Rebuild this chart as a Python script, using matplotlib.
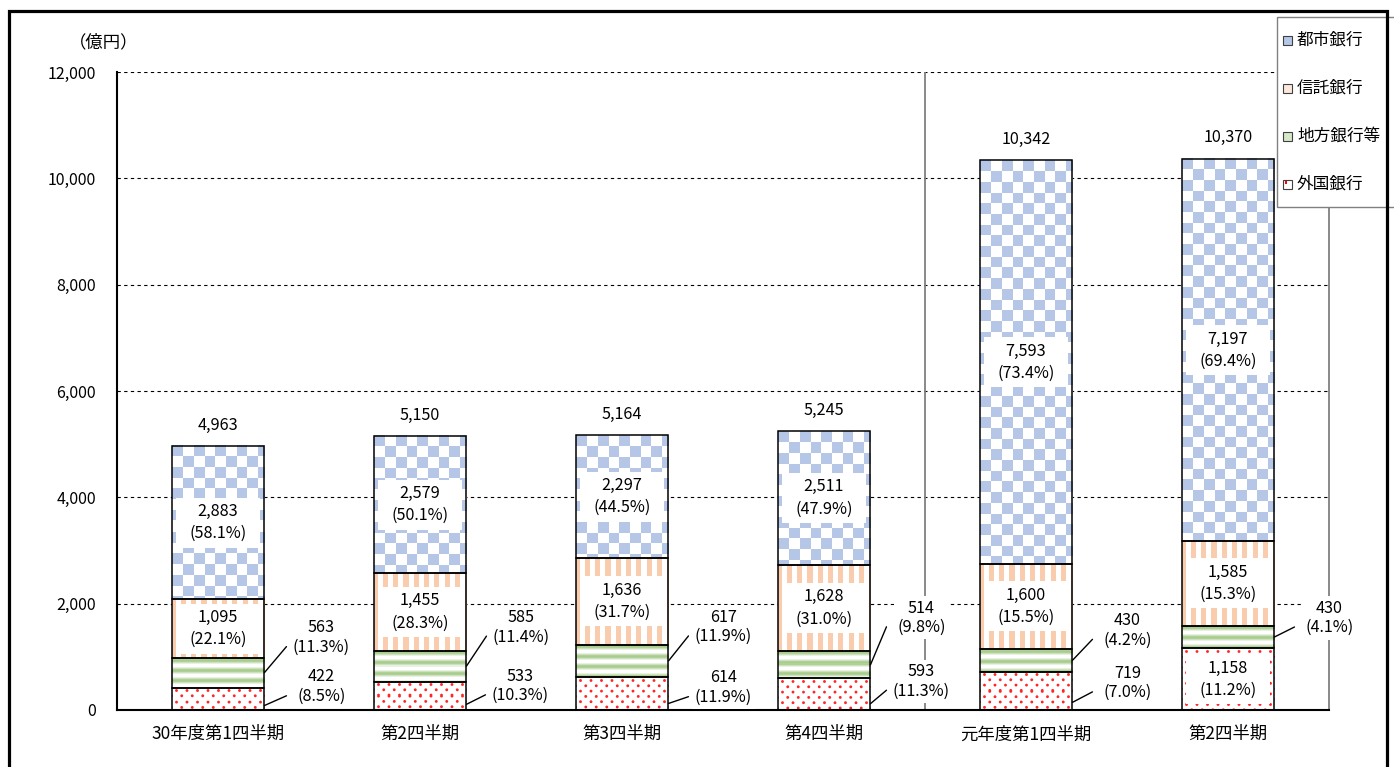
import numpy as np
import matplotlib
matplotlib.use("Agg")
import matplotlib.pyplot as plt
from matplotlib.patches import Rectangle

plt.rcParams['font.family'] = ['Noto Sans CJK JP', 'DejaVu Sans']

# ---------------- data ----------------
categories = ["30年度第1四半期", "第2四半期", "第3四半期", "第4四半期", "元年度第1四半期", "第2四半期"]
series_names = ["都市銀行", "信託銀行", "地方銀行等", "外国銀行"]
foreign = [422, 533, 614, 593, 719, 1158]
foreign_pct = [8.5, 10.3, 11.9, 11.3, 7.0, 11.2]
regional = [563, 585, 617, 514, 430, 430]
regional_pct = [11.3, 11.4, 11.9, 9.8, 4.2, 4.1]
trust = [1095, 1455, 1636, 1628, 1600, 1585]
trust_pct = [22.1, 28.3, 31.7, 31.0, 15.5, 15.3]
city = [2883, 2579, 2297, 2511, 7593, 7197]
city_pct = [58.1, 50.1, 44.5, 47.9, 73.4, 69.4]
totals = [4963, 5150, 5164, 5245, 10342, 10370]
yticks = [0, 2000, 4000, 6000, 8000, 10000, 12000]

# layout offsets (pixels) for labels placed outside the bars
regional_off = [(57, 35), (55, 39), (55, 34), (51, 47), (55, 30), (55, 19)]
foreign_off = [(57, 12), (54, 10), (55, 6), (51, 13), (55, 8), None]
foreign_inside = [False, False, False, False, False, True]

W, H = 1394, 767
fig = plt.figure(figsize=(W / 100, H / 100), dpi=100)
ax = fig.add_axes([117 / W, 1 - 710 / H, (1329 - 117) / W, (710 - 72) / H])
XLIM = (-0.5, len(categories) - 0.5)
YLIM = (0, 12000)
ax.set_xlim(*XLIM)
ax.set_ylim(*YLIM)
ax.set_autoscale_on(False)

BW = 0.46
x = np.arange(len(categories))

BLUE = np.array([0.71, 0.78, 0.905])
ORANGE = np.array([0.975, 0.80, 0.68])
GREEN = np.array([0.64, 0.79, 0.53])
RED = np.array([1.0, 0.15, 0.15])
WHITE = np.array([1.0, 1.0, 1.0])


def texture(kind, w, h):
    yy, xx = np.mgrid[0:h, 0:w].astype(float)
    img = np.ones((h, w, 3))
    if kind == 'checker':
        c = 10.7
        m = ((np.floor(xx / c) + np.floor(yy / c)) % 2) == 0
        img[m] = BLUE
    elif kind == 'vstripe':
        p = 10.3
        m = ((xx + 2) % p) < p * 0.5
        img[m] = ORANGE
    elif kind == 'hstripe':
        p = 10.0
        ph = ((yy + 3) % p) / p
        t = np.clip(1.25 - np.abs(ph - 0.5) / 0.3, 0, 1) * 0.95
        img = WHITE * (1 - t[..., None]) + GREEN * t[..., None]
    elif kind == 'dots':
        py, pxs = 5.3, 10.5
        r = np.round((yy - 3) / py)
        dy = (yy - 3) - r * py
        off = (r % 2) * pxs / 2 + 4
        dx = (xx - off) % pxs
        dx = np.minimum(dx, pxs - dx)
        d = np.sqrt(dx ** 2 + dy ** 2)
        a = np.clip(1.9 - d, 0, 1)
        img = WHITE * (1 - a[..., None]) + RED * a[..., None]
    return img


def px(xd, yd):
    return ax.transData.transform((xd, yd))


def draw_segment(i, bottom, val, kind):
    x0, x1 = x[i] - BW / 2, x[i] + BW / 2
    (dx0, dy0) = px(x0, bottom)
    (dx1, dy1) = px(x1, bottom + val)
    w = max(int(round(dx1 - dx0)), 1)
    h = max(int(round(dy1 - dy0)), 1)
    img = texture(kind, w, h)
    ax.imshow(img, extent=(x0, x1, bottom, bottom + val), origin='upper',
              interpolation='nearest', aspect='auto', zorder=2.1)


# segments
bottoms_f = np.zeros(len(x))
bottoms_r = np.array(foreign, float)
bottoms_t = bottoms_r + np.array(regional)
bottoms_c = bottoms_t + np.array(trust)

for i in range(len(x)):
    draw_segment(i, 0, foreign[i], 'dots')
    draw_segment(i, bottoms_r[i], regional[i], 'hstripe')
    draw_segment(i, bottoms_t[i], trust[i], 'vstripe')
    draw_segment(i, bottoms_c[i], city[i], 'checker')

for vals, bots in [(foreign, bottoms_f), (regional, bottoms_r), (trust, bottoms_t), (city, bottoms_c)]:
    ax.bar(x, vals, bottom=bots, width=BW, facecolor='none', edgecolor='black', linewidth=1.1, zorder=2.3)

ax.set_xlim(*XLIM)
ax.set_ylim(*YLIM)

# per-pixel data scale
ppd_y = (px(0, 1000)[1] - px(0, 0)[1]) / 1000.0
ppd_x = px(1, 0)[0] - px(0, 0)[0]

FS = 11.7


def inside_label(i, center, val, pct):
    bw, bh = 84 / ppd_x, 50 / ppd_y
    ax.add_patch(Rectangle((x[i] - bw / 2, center - bh / 2), bw, bh, facecolor='white',
                           edgecolor='none', zorder=2.2))
    ax.annotate(f"{val:,}", (x[i], center), xytext=(0, 11), textcoords='offset pixels',
                ha='center', va='center', fontsize=FS, zorder=4)
    ax.annotate(f"({pct:.1f}%)", (x[i], center), xytext=(0, -11), textcoords='offset pixels',
                ha='center', va='center', fontsize=FS, zorder=4)


def outside_label(i, center, start, val, pct, off):
    xr = x[i] + BW / 2
    lx = off[0]
    ly = off[1] + (center - start) * ppd_y
    ax.annotate(f"{val:,}\n({pct:.1f}%)", xy=(xr, start), xytext=(lx, ly), textcoords='offset pixels',
                ha='center', va='center', fontsize=FS, linespacing=1.2, zorder=5,
                annotation_clip=False,
                bbox=dict(boxstyle='square,pad=0.2', facecolor='white', edgecolor='none'))
    ax.annotate("", xy=(xr, start), xytext=(lx - 35, ly - 9), textcoords='offset pixels',
                annotation_clip=False,
                arrowprops=dict(arrowstyle='-', color='black', lw=1.0, shrinkA=0, shrinkB=0),
                zorder=5)


for i in range(len(x)):
    inside_label(i, bottoms_c[i] + city[i] / 2, city[i], city_pct[i])
    inside_label(i, bottoms_t[i] + trust[i] / 2, trust[i], trust_pct[i])
    outside_label(i, bottoms_r[i] + regional[i] / 2, bottoms_r[i] + regional[i] / 2,
                  regional[i], regional_pct[i], regional_off[i])
    if foreign_inside[i]:
        inside_label(i, foreign[i] / 2, foreign[i], foreign_pct[i])
    else:
        outside_label(i, foreign[i] / 2, foreign[i] * 0.2, foreign[i], foreign_pct[i], foreign_off[i])
    ax.annotate(f"{totals[i]:,}", (x[i], totals[i]), xytext=(0, 21), textcoords='offset pixels',
                ha='center', va='center', fontsize=FS, zorder=4)

# grid, separator, axes styling
ax.set_yticks(yticks)
ax.set_yticklabels([f"{v:,}" for v in yticks])
ax.yaxis.grid(True, linestyle=(0, (3, 3)), color='black', linewidth=0.8)
ax.set_axisbelow(True)
ax.axvline(3.5, color='#808080', linewidth=1.3, zorder=1)
ax.set_xticks(x)
ax.set_xticklabels(categories)
ax.tick_params(axis='y', length=0, pad=15, labelsize=11.5)
ax.tick_params(axis='x', length=0, pad=11, labelsize=12.5)
ax.spines['top'].set_visible(False)
ax.spines['right'].set_color('#808080')
ax.spines['right'].set_linewidth(1.3)
ax.spines['left'].set_linewidth(1.5)
ax.spines['bottom'].set_linewidth(1.5)

fig.text(104 / W, 1 - 42 / H, "（億円）", ha='center', va='center', fontsize=12.5)

# legend (manual)
fig.add_artist(Rectangle((1277 / W, 1 - 207 / H), 130 / W, 190 / H, transform=fig.transFigure,
                         facecolor='white', edgecolor='#808080', linewidth=1.0, zorder=5))
leg_face = ['#B4C7E7', '#FCE9DC', '#D5E8C8', '#FFFFFF']
for k, name in enumerate(series_names):
    yc = 40 + 48 * k
    fig.add_artist(Rectangle((1283 / W, 1 - (yc + 4.5) / H), 9 / W, 9 / H, transform=fig.transFigure,
                             facecolor=leg_face[k], edgecolor='#404040', linewidth=0.8, zorder=6))
    if k == 3:
        fig.add_artist(Rectangle((1284.5 / W, 1 - (yc - 0.5) / H), 2.5 / W, 2.5 / H, transform=fig.transFigure,
                                 facecolor='red', edgecolor='none', zorder=7))
    fig.text(1297 / W, 1 - yc / H, name, ha='left', va='center', fontsize=12, zorder=6)

# outer frame
fig.add_artist(Rectangle((8.5 / W, -0.02), (1387 - 8.5) / W, 1.02 - 11 / H, transform=fig.transFigure,
                         facecolor='none', edgecolor='black', linewidth=2.3, zorder=10))

fig.savefig("out.png", dpi=100)
